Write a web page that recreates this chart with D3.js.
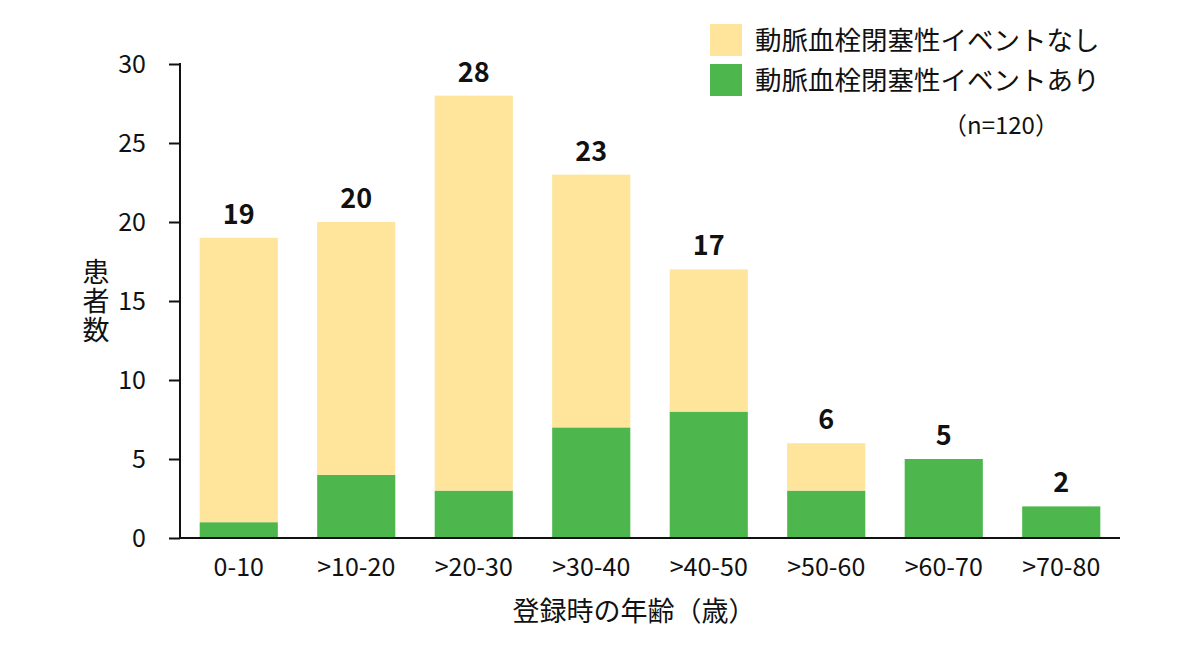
<!DOCTYPE html>
<html>
<head>
<meta charset="utf-8">
<script src="https://cdn.jsdelivr.net/npm/d3@7"></script>
<style>
  body { margin: 0; background: #fff; }
  svg text { font-family: "Noto Sans CJK JP", "Noto Sans", sans-serif; fill: #111; }
</style>
</head>
<body>
<svg id="chart"></svg>
<script>
const ageGroups = ["0-10", ">10-20", ">20-30", ">30-40", ">40-50", ">50-60", ">60-70", ">70-80"];
const withEvent = [1, 4, 3, 7, 8, 3, 5, 2];
const withoutEvent = [18, 16, 25, 16, 9, 3, 0, 0];
const yTicks = [0, 5, 10, 15, 20, 25, 30];
const seriesNames = ["動脈血栓閉塞性イベントなし", "動脈血栓閉塞性イベントあり"];

const width = 1200;
const height = 650;
const margin = { top: 64, right: 80, bottom: 112, left: 180 };
const innerWidth = width - margin.left - margin.right;
const innerHeight = height - margin.top - margin.bottom;

const colors = { without: "#fee59b", with: "#4db74e" };

const data = ageGroups.map((g, i) => ({
  group: g,
  with: withEvent[i],
  without: withoutEvent[i],
  total: withEvent[i] + withoutEvent[i]
}));

const svg = d3.select("#chart")
  .attr("width", width)
  .attr("height", height);

const g = svg.append("g")
  .attr("transform", `translate(${margin.left}, ${margin.top})`);

const xScale = d3.scaleBand()
  .domain(ageGroups)
  .range([0, innerWidth])
  .paddingInner(0.335)
  .paddingOuter(0.1675);

const yScale = d3.scaleLinear()
  .domain([0, 30])
  .range([innerHeight, 0]);

// stacked bars
const stack = d3.stack().keys(["with", "without"]);
const layers = stack(data);

g.selectAll(".layer")
  .data(layers)
  .enter()
  .append("g")
  .attr("class", "layer")
  .attr("fill", d => colors[d.key])
  .selectAll("rect")
  .data(d => d)
  .enter()
  .append("rect")
  .attr("x", d => xScale(d.data.group))
  .attr("y", d => yScale(d[1]))
  .attr("width", xScale.bandwidth())
  .attr("height", d => yScale(d[0]) - yScale(d[1]));

// totals on top
g.selectAll(".total")
  .data(data)
  .enter()
  .append("text")
  .attr("class", "total")
  .attr("x", d => xScale(d.group) + xScale.bandwidth() / 2)
  .attr("y", d => yScale(d.total) - 14)
  .attr("text-anchor", "middle")
  .attr("font-size", 27)
  .attr("font-weight", "bold")
  .text(d => d.total);

// axes
const yAxis = d3.axisLeft(yScale)
  .tickValues(yTicks)
  .tickSize(11)
  .tickPadding(23);

const yAxisG = g.append("g").call(yAxis);
yAxisG.select(".domain").attr("stroke", "#111").attr("stroke-width", 2).attr("d", `M0,-1V${innerHeight}`);
yAxisG.selectAll(".tick line").attr("stroke", "#111").attr("stroke-width", 2);
yAxisG.selectAll(".tick text").attr("font-size", 25).attr("fill", "#111");

const xAxis = d3.axisBottom(xScale)
  .tickSize(0)
  .tickPadding(20);

const xAxisG = g.append("g")
  .attr("transform", `translate(0, ${innerHeight})`)
  .call(xAxis);
xAxisG.select(".domain").attr("stroke", "#111").attr("stroke-width", 2).attr("d", `M-1,0H${innerWidth}`);
xAxisG.selectAll(".tick text").attr("font-size", 25).attr("fill", "#111");

// axis titles
const yTitle = svg.append("text")
  .attr("text-anchor", "middle")
  .attr("font-size", 27);
["患", "者", "数"].forEach((c, i) => {
  yTitle.append("tspan").attr("x", 96).attr("y", 282 + i * 29).text(c);
});

svg.append("text")
  .attr("x", 634)
  .attr("y", 621)
  .attr("text-anchor", "middle")
  .attr("font-size", 27)
  .text("登録時の年齢（歳）");

// legend
const legendItems = [
  { name: seriesNames[0], color: colors.without },
  { name: seriesNames[1], color: colors.with }
];
const legend = svg.append("g").attr("transform", "translate(710, 24)");
legendItems.forEach((item, i) => {
  legend.append("rect")
    .attr("x", 0)
    .attr("y", i * 40)
    .attr("width", 32)
    .attr("height", 32)
    .attr("fill", item.color);
  legend.append("text")
    .attr("x", 45)
    .attr("y", i * 40 + 26)
    .attr("font-size", 26.5)
    .text(item.name);
});
svg.append("text")
  .attr("x", 943)
  .attr("y", 134)
  .attr("font-size", 24)
  .text("（n=120）");
</script>
</body>
</html>
